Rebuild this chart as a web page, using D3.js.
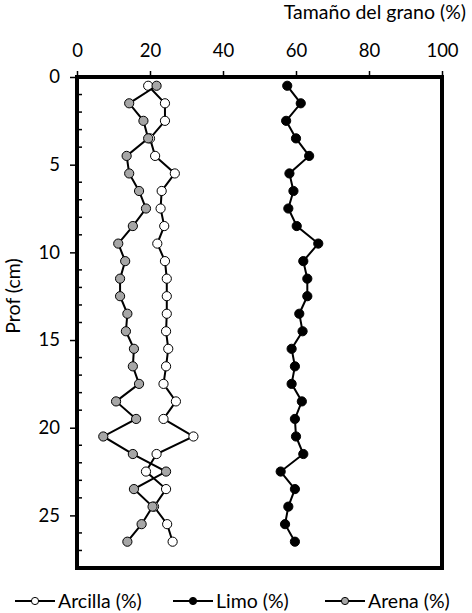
<!DOCTYPE html>
<html>
<head>
<meta charset="utf-8">
<script src="https://cdn.jsdelivr.net/npm/d3@7"></script>
<style>
  body { margin: 0; background: #fff; }
  svg text { font-family: Lato, "Liberation Sans", sans-serif; fill: #000; }
</style>
</head>
<body>
<svg id="chart" width="472" height="613"></svg>
<script>
const WIDTH = 472;
const HEIGHT = 613;

// profundidad (cm) de cada muestra
const depths = [0.5, 1.5, 2.5, 3.5, 4.5, 5.5, 6.5, 7.5, 8.5, 9.5, 10.5, 11.5, 12.5, 13.5,
    14.5, 15.5, 16.5, 17.5, 18.5, 19.5, 20.5, 21.5, 22.5, 23.5, 24.5, 25.5, 26.5];

const arcilla = [19.5, 24.1, 24.1, 20.0, 21.4, 26.8, 23.2, 22.9, 23.9, 22.0, 24.1, 24.6, 24.6, 24.6,
    24.4, 25.0, 24.4, 23.7, 27.1, 23.7, 31.9, 21.8, 18.9, 24.4, 21.1, 24.7, 26.2];
const limo = [57.6, 61.3, 57.3, 60.0, 63.6, 58.2, 59.3, 57.9, 60.2, 66.1, 62.0, 63.1, 63.1, 60.9,
    61.8, 58.8, 59.7, 58.8, 61.6, 59.7, 60.0, 62.0, 55.8, 59.7, 57.9, 57.0, 59.7];
const arena = [21.8, 14.3, 18.2, 19.5, 13.6, 14.3, 17.0, 18.9, 15.3, 11.3, 13.2, 11.8, 11.8, 13.8,
    13.4, 15.6, 15.3, 17.0, 10.7, 16.2, 7.2, 15.3, 24.4, 15.6, 20.7, 17.7, 13.8];

const xTicks = [0, 20, 40, 60, 80, 100];
const yTicks = [0, 5, 10, 15, 20, 25];

const series = [
    { name: "Arcilla (%)", values: arcilla, fill: "#ffffff" },
    { name: "Limo (%)", values: limo, fill: "#000000" },
    { name: "Arena (%)", values: arena, fill: "#a6a6a6" }
];

const margin = { left: 77, right: 30, top: 77, bottom: 45 };
const FONT = 19.5;
const TICK_FONT = 18.5;

const svg = d3.select("#chart");

const x = d3.scaleLinear().domain([0, 100]).range([margin.left, WIDTH - margin.right]);
const y = d3.scaleLinear().domain([0, 28]).range([margin.top, HEIGHT - margin.bottom]);

// eje superior
const xAxis = svg.append("g")
    .attr("transform", `translate(0, ${margin.top})`)
    .call(d3.axisTop(x).tickValues(xTicks).tickSize(6).tickPadding(14));
xAxis.select(".domain").remove();
xAxis.selectAll("line").attr("stroke", "#000").attr("stroke-width", 1.5);
xAxis.selectAll("text").attr("font-size", TICK_FONT).attr("font-family", null);

// eje izquierdo
const yAxis = svg.append("g")
    .attr("transform", `translate(${margin.left}, 0)`)
    .call(d3.axisLeft(y).tickValues(yTicks).tickSize(7).tickPadding(10));
yAxis.select(".domain").remove();
yAxis.selectAll("line").attr("stroke", "#000").attr("stroke-width", 1.5);
yAxis.selectAll("text").attr("font-size", TICK_FONT).attr("font-family", null);

// marcas menores, hacia dentro
svg.append("g")
    .selectAll("line")
    .data(d3.range(1, 28).filter(v => v % 5 !== 0))
    .join("line")
    .attr("x1", margin.left)
    .attr("x2", margin.left + 5)
    .attr("y1", d => y(d))
    .attr("y2", d => y(d))
    .attr("stroke", "#000")
    .attr("stroke-width", 1.5);

// marco
svg.append("rect")
    .attr("x", x(0))
    .attr("y", y(0))
    .attr("width", x(100) - x(0))
    .attr("height", y(28) - y(0))
    .attr("fill", "none")
    .attr("stroke", "#000")
    .attr("stroke-width", 4);

const line = d3.line()
    .x(d => x(d[1]))
    .y(d => y(d[0]));

series.forEach(s => {
    const pts = depths.map((d, i) => [d, s.values[i]]);
    const g = svg.append("g");
    g.append("path")
        .attr("d", line(pts))
        .attr("fill", "none")
        .attr("stroke", "#000")
        .attr("stroke-width", 2);
    g.selectAll("circle")
        .data(pts)
        .join("circle")
        .attr("cx", d => x(d[1]))
        .attr("cy", d => y(d[0]))
        .attr("r", 4.6)
        .attr("fill", s.fill)
        .attr("stroke", "#000")
        .attr("stroke-width", 1);
});

// títulos
svg.append("text")
    .attr("x", 466)
    .attr("y", 19)
    .attr("text-anchor", "end")
    .attr("font-size", FONT)
    .text("Tamaño del grano (%)");

svg.append("text")
    .attr("transform", "translate(20, 296) rotate(-90)")
    .attr("text-anchor", "middle")
    .attr("font-size", FONT)
    .text("Prof (cm)");

// leyenda
const legendX = [15, 173, 325];
const legend = svg.append("g");
series.forEach((s, i) => {
    const lg = legend.append("g").attr("transform", `translate(${legendX[i]}, 601)`);
    lg.append("line")
        .attr("x1", 0).attr("x2", 40)
        .attr("stroke", "#000").attr("stroke-width", 2);
    lg.append("circle")
        .attr("cx", 20).attr("r", 3.6)
        .attr("fill", s.fill)
        .attr("stroke", "#000").attr("stroke-width", 1);
    lg.append("text")
        .attr("x", 43)
        .attr("dy", "0.35em")
        .attr("font-size", FONT)
        .text(s.name);
});
</script>
</body>
</html>
